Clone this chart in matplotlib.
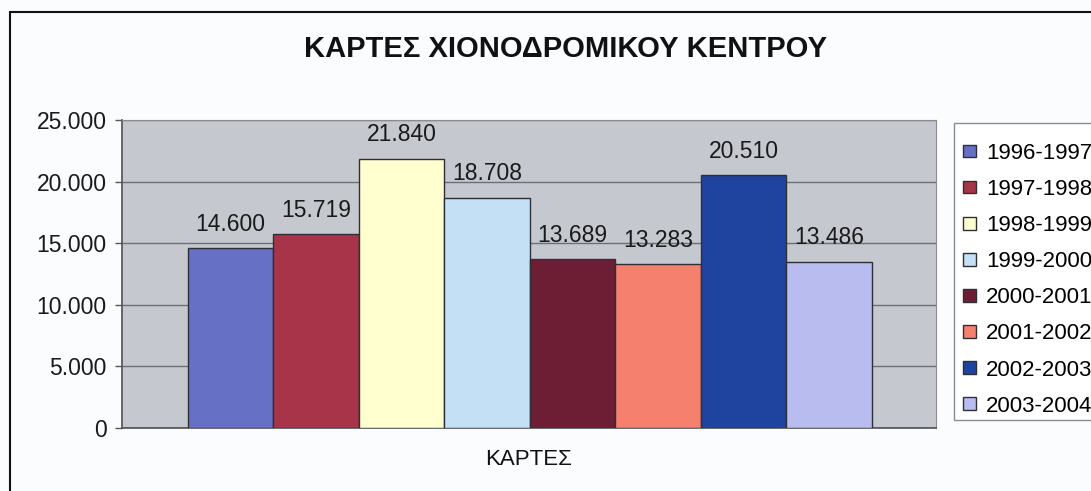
import numpy as np
import matplotlib.pyplot as plt
from matplotlib.patches import Rectangle

# data
seasons = ['1996-1997', '1997-1998', '1998-1999', '1999-2000',
           '2000-2001', '2001-2002', '2002-2003', '2003-2004']
tickets = [14600, 15719, 21840, 18708, 13689, 13283, 20510, 13486]
bar_colors = ['#6670C4', '#A8344A', '#FFFFD0', '#C4E0F4',
              '#6E1E34', '#F5806E', '#1E44A0', '#B8BCEE']
y_ticks = [0, 5000, 10000, 15000, 20000, 25000]


def greek_thousands(v):
    """Format a number with '.' as thousands separator."""
    return f'{int(v):,}'.replace(',', '.')


plt.rcParams['font.family'] = ['Liberation Sans', 'DejaVu Sans']

W, H = 1091, 491
fig = plt.figure(figsize=(W / 100, H / 100), dpi=100, facecolor='#FBFCFD')

# plot area
ax = fig.add_axes([122 / W, 1 - 428 / H, (936 - 122) / W, (428 - 120) / H])
ax.set_facecolor('#C6C8D0')

x = np.arange(len(seasons))
bars = ax.bar(x, tickets, width=1.0, color=bar_colors,
              edgecolor='#2E2E36', linewidth=1.0, label=seasons, zorder=3)
ax.bar_label(bars, labels=[greek_thousands(v) for v in tickets],
             padding=9, fontsize=16.5, color='#1A1A1A')

ax.set_xlim(-1.272, 8.249)
ax.set_ylim(0, 25000)
ax.set_yticks(y_ticks)
ax.set_yticklabels([greek_thousands(v) for v in y_ticks], fontsize=16.5, color='#1A1A1A')
ax.tick_params(axis='y', length=5, width=1, color='#555555', pad=6)
ax.set_xticks([])
ax.grid(axis='y', color='#6E6E74', linewidth=1.0, zorder=1)
for side in ['top', 'right']:
    ax.spines[side].set_color('#8A8A90')
for side in ['left', 'bottom']:
    ax.spines[side].set_color('#505058')
    ax.spines[side].set_linewidth(1.2)

ax.set_xlabel('ΚΑΡΤΕΣ', fontsize=16, color='#111111', labelpad=15)

# chart title
fig.text(565 / W, 1 - 49 / H, 'ΚΑΡΤΕΣ ΧΙΟΝΟΔΡΟΜΙΚΟΥ ΚΕΝΤΡΟΥ',
         ha='center', va='center', fontsize=21, fontweight='bold', color='#111111')

# legend (frame drawn separately so the box can run off the right edge)
fig.patches.append(Rectangle((954 / W, 1 - 420 / H), 200 / W, (420 - 123) / H,
                             transform=fig.transFigure, facecolor='#FFFFFF',
                             edgecolor='#8A8A90', linewidth=1.0, zorder=0))
leg = fig.legend(handles=bars.patches, labels=seasons, loc='upper left',
                 bbox_to_anchor=(954 / W, 1 - 134 / H), fontsize=16,
                 handlelength=0.6, handleheight=0.5, handletextpad=0.45,
                 labelspacing=0.68, borderpad=0.4, frameon=False,
                 borderaxespad=0)

# outer chart frame
fig.patches.append(Rectangle((10 / W, -0.2), 1.2, 1.2 - 12 / H,
                             transform=fig.transFigure, fill=False,
                             edgecolor='#111111', linewidth=1.5))

fig.savefig('out.png', dpi=100, facecolor=fig.get_facecolor())
